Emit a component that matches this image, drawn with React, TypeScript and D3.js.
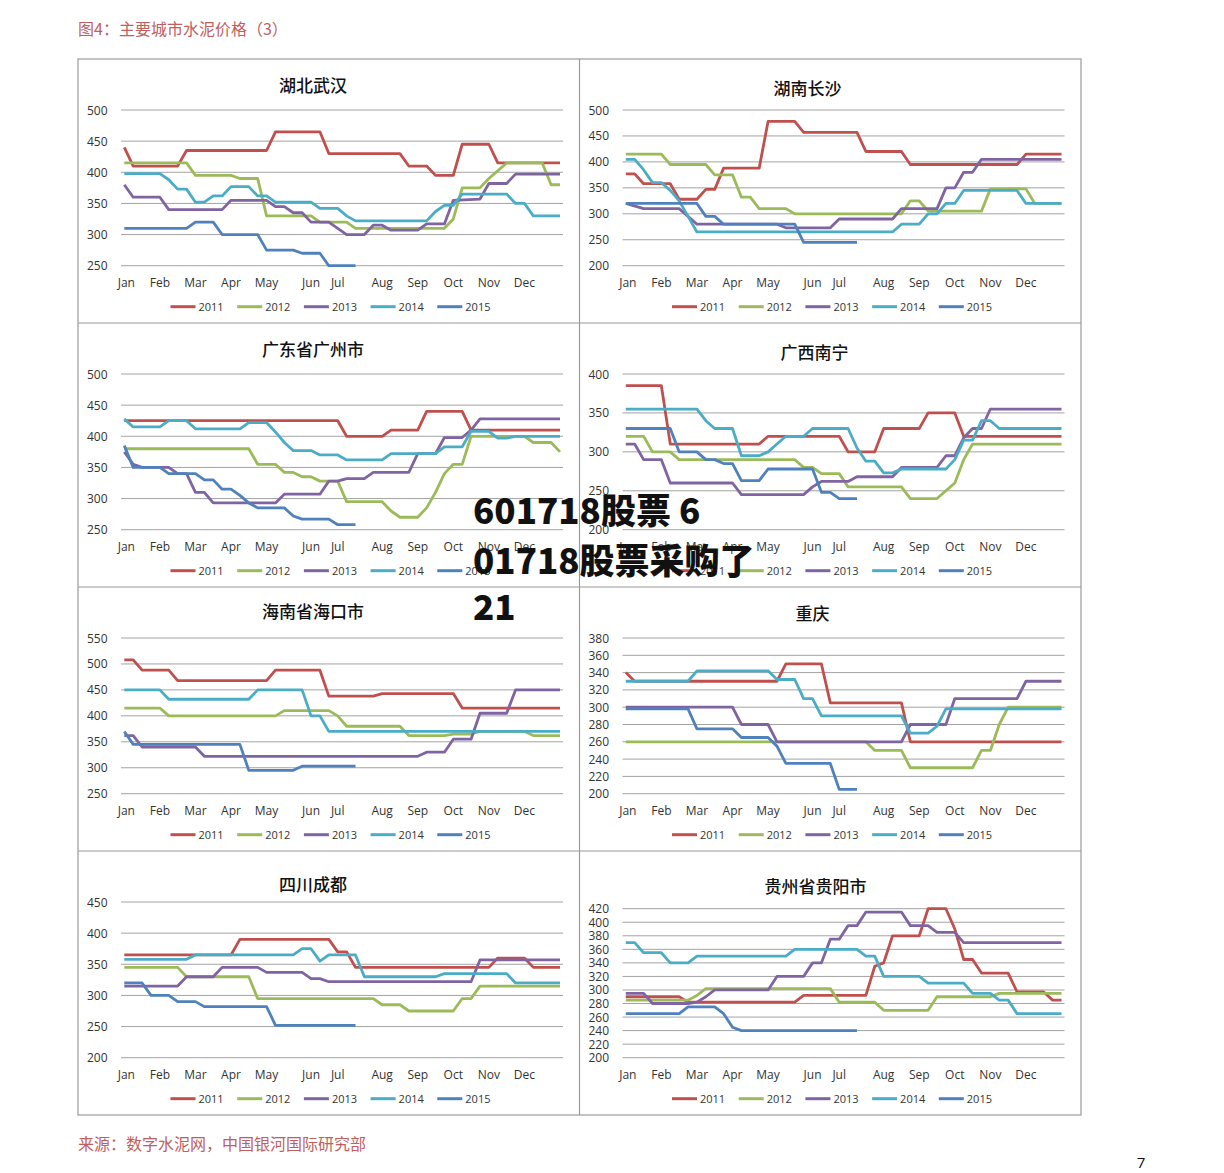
import React from 'react'
import * as d3 from 'd3'

type Pt = [number, number]

// x axis: weekly points 0..49, month labels sit on the first week of the month
const monthLabels = ['Jan', 'Feb', 'Mar', 'Apr', 'May', 'Jun', 'Jul', 'Aug', 'Sep', 'Oct', 'Nov', 'Dec']
const monthWeek = [0, 4, 8, 12, 16, 21, 24, 29, 33, 37, 41, 45]
const years = ['2011', '2012', '2013', '2014', '2015']

const cityNames = ['湖北武汉', '湖南长沙', '广东省广州市', '广西南宁', '海南省海口市', '重庆', '四川成都', '贵州省贵阳市']
const axisMin = [250, 200, 250, 200, 250, 200, 200, 200]
const axisMax = [500, 500, 500, 400, 550, 380, 450, 420]
const axisStep = [50, 50, 50, 50, 50, 20, 50, 20]

// each series: [week, price] vertices, one list per year 2011..2015
const wuhan: Pt[][] = [
  [[0, 440], [1, 410], [6, 410], [7, 435], [16, 435], [17, 465], [22, 465], [23, 430], [31, 430], [32, 410], [34, 410], [35, 395], [37, 395], [38, 445], [41, 445], [42, 415], [49, 415]],
  [[0, 415], [7, 415], [8, 395], [12, 395], [13, 390], [15, 390], [16, 330], [21, 330], [22, 320], [25, 320], [26, 310], [36, 310], [37, 325], [38, 375], [40, 375], [41, 390], [43, 415], [47, 415], [48, 380], [49, 380]],
  [[0, 380], [1, 360], [4, 360], [5, 340], [11, 340], [12, 355], [16, 355], [17, 345], [18, 345], [19, 335], [20, 335], [21, 320], [23, 320], [24, 310], [25, 300], [27, 300], [28, 315], [29, 315], [30, 307], [33, 307], [34, 317], [36, 317], [37, 355], [40, 357], [41, 382], [43, 382], [44, 397], [49, 397]],
  [[0, 398], [4, 398], [5, 388], [6, 373], [7, 373], [8, 352], [9, 352], [10, 362], [11, 362], [12, 377], [14, 377], [15, 362], [16, 362], [17, 352], [21, 352], [22, 342], [24, 342], [25, 330], [26, 322], [34, 322], [35, 337], [36, 347], [37, 347], [38, 365], [43, 365], [44, 350], [45, 350], [46, 330], [49, 330]],
  [[0, 310], [7, 310], [8, 320], [10, 320], [11, 300], [15, 300], [16, 275], [19, 275], [20, 270], [22, 270], [23, 250], [26, 250]],
]

const changsha: Pt[][] = [
  [[0, 377], [1, 377], [2, 358], [5, 358], [6, 328], [8, 328], [9, 347], [10, 347], [11, 388], [15, 388], [16, 478], [19, 478], [20, 457], [26, 457], [27, 420], [31, 420], [32, 395], [44, 395], [45, 415], [49, 415]],
  [[0, 415], [4, 415], [5, 395], [9, 395], [10, 375], [12, 375], [13, 332], [14, 332], [15, 310], [18, 310], [19, 300], [31, 300], [32, 325], [33, 325], [34, 305], [40, 305], [41, 348], [45, 348], [46, 320], [49, 320]],
  [[0, 320], [2, 310], [6, 310], [7, 295], [8, 280], [17, 280], [18, 273], [23, 273], [24, 290], [30, 290], [31, 310], [35, 310], [36, 350], [37, 350], [38, 380], [39, 380], [40, 405], [49, 405]],
  [[0, 405], [1, 405], [2, 385], [3, 360], [4, 360], [5, 345], [6, 325], [7, 295], [8, 265], [30, 265], [31, 280], [33, 280], [34, 300], [35, 300], [36, 320], [37, 320], [38, 345], [44, 345], [45, 320], [49, 320]],
  [[0, 320], [8, 320], [9, 295], [10, 295], [11, 280], [19, 280], [20, 245], [26, 245]],
]

const guangzhou: Pt[][] = [
  [[0, 425], [24, 425], [25, 400], [29, 400], [30, 410], [33, 410], [34, 440], [38, 440], [39, 410], [49, 410]],
  [[0, 380], [14, 380], [15, 355], [17, 355], [18, 342], [19, 342], [20, 335], [21, 335], [22, 328], [24, 328], [25, 295], [29, 295], [30, 280], [31, 270], [33, 270], [34, 285], [35, 310], [36, 340], [37, 355], [38, 355], [39, 400], [45, 400], [46, 390], [48, 390], [49, 375]],
  [[0, 375], [1, 355], [2, 350], [5, 350], [6, 340], [7, 340], [8, 310], [9, 310], [10, 293], [17, 293], [18, 307], [22, 307], [23, 328], [24, 328], [25, 332], [27, 332], [28, 342], [32, 342], [33, 372], [35, 372], [36, 398], [38, 398], [39, 410], [40, 428], [49, 428]],
  [[0, 428], [1, 415], [4, 415], [5, 425], [7, 425], [8, 412], [13, 412], [14, 422], [16, 422], [17, 407], [18, 390], [19, 377], [21, 377], [22, 370], [24, 370], [25, 362], [29, 362], [30, 372], [35, 372], [36, 383], [38, 383], [39, 408], [41, 408], [42, 397], [43, 397], [44, 400], [49, 400]],
  [[0, 385], [1, 350], [4, 350], [5, 340], [8, 340], [9, 330], [10, 330], [11, 315], [12, 315], [13, 305], [14, 293], [15, 285], [18, 285], [19, 272], [20, 267], [23, 267], [24, 258], [26, 258]],
]

const nanning: Pt[][] = [
  [[0, 385], [4, 385], [5, 310], [15, 310], [16, 320], [24, 320], [25, 300], [28, 300], [29, 330], [33, 330], [34, 350], [37, 350], [38, 320], [49, 320]],
  [[0, 320], [2, 320], [3, 300], [5, 300], [6, 290], [19, 290], [20, 280], [21, 280], [22, 272], [24, 272], [25, 255], [31, 255], [32, 240], [35, 240], [36, 250], [37, 260], [38, 290], [39, 310], [49, 310]],
  [[0, 310], [1, 310], [2, 290], [4, 290], [5, 260], [12, 260], [13, 245], [20, 245], [21, 255], [22, 262], [25, 262], [26, 268], [30, 268], [31, 280], [35, 280], [36, 295], [37, 295], [38, 318], [39, 330], [40, 330], [41, 355], [49, 355]],
  [[0, 355], [8, 355], [9, 340], [10, 330], [12, 330], [13, 295], [15, 295], [16, 300], [17, 310], [18, 320], [20, 320], [21, 330], [25, 330], [26, 305], [27, 288], [28, 288], [29, 273], [30, 273], [31, 278], [36, 278], [37, 290], [38, 315], [39, 315], [40, 340], [41, 340], [42, 330], [49, 330]],
  [[0, 330], [5, 330], [6, 300], [8, 300], [9, 290], [10, 290], [11, 285], [12, 285], [13, 263], [15, 263], [16, 278], [21, 278], [22, 248], [23, 248], [24, 240], [26, 240]],
]

const haikou: Pt[][] = [
  [[0, 508], [1, 508], [2, 488], [5, 488], [6, 468], [16, 468], [17, 488], [22, 488], [23, 438], [28, 438], [29, 443], [37, 443], [38, 415], [49, 415]],
  [[0, 415], [4, 415], [5, 400], [17, 400], [18, 410], [23, 410], [24, 400], [25, 380], [31, 380], [32, 362], [36, 362], [37, 365], [39, 365], [40, 370], [45, 370], [46, 362], [49, 362]],
  [[0, 362], [1, 362], [2, 340], [8, 340], [9, 322], [33, 322], [34, 330], [36, 330], [37, 355], [39, 355], [40, 405], [43, 405], [44, 450], [49, 450]],
  [[0, 450], [4, 450], [5, 432], [14, 432], [15, 450], [20, 450], [21, 400], [22, 400], [23, 370], [49, 370]],
  [[0, 370], [1, 345], [13, 345], [14, 295], [19, 295], [20, 303], [26, 303]],
]

const chongqing: Pt[][] = [
  [[0, 340], [1, 330], [17, 330], [18, 350], [22, 350], [23, 305], [31, 305], [32, 260], [49, 260]],
  [[0, 260], [27, 260], [28, 250], [31, 250], [32, 230], [39, 230], [40, 250], [41, 250], [42, 280], [43, 300], [49, 300]],
  [[0, 300], [12, 300], [13, 280], [16, 280], [17, 260], [31, 260], [32, 280], [36, 280], [37, 310], [44, 310], [45, 330], [49, 330]],
  [[0, 330], [7, 330], [8, 342], [16, 342], [17, 332], [19, 332], [20, 310], [21, 310], [22, 290], [31, 290], [32, 270], [34, 270], [35, 278], [36, 298], [49, 298]],
  [[0, 298], [7, 298], [8, 275], [12, 275], [13, 265], [16, 265], [17, 255], [18, 235], [23, 235], [24, 205], [26, 205]],
]

const chengdu: Pt[][] = [
  [[0, 365], [12, 365], [13, 390], [23, 390], [24, 370], [25, 370], [26, 345], [41, 345], [42, 360], [45, 360], [46, 345], [49, 345]],
  [[0, 345], [6, 345], [7, 330], [14, 330], [15, 295], [28, 295], [29, 285], [31, 285], [32, 275], [37, 275], [38, 295], [39, 295], [40, 315], [49, 315]],
  [[0, 315], [6, 315], [7, 330], [10, 330], [11, 345], [15, 345], [16, 337], [20, 337], [21, 327], [22, 327], [23, 322], [39, 322], [40, 357], [49, 357]],
  [[0, 358], [7, 358], [8, 365], [19, 365], [20, 375], [21, 375], [22, 355], [23, 365], [26, 365], [27, 330], [35, 330], [36, 335], [43, 335], [44, 320], [49, 320]],
  [[0, 320], [2, 320], [3, 300], [5, 300], [6, 290], [8, 290], [9, 282], [16, 282], [17, 252], [26, 252]],
]

const guiyang: Pt[][] = [
  [[0, 290], [6, 290], [7, 282], [19, 282], [20, 292], [27, 292], [28, 335], [29, 340], [30, 380], [33, 380], [34, 420], [36, 420], [37, 390], [38, 345], [39, 345], [40, 325], [43, 325], [44, 297], [47, 297], [48, 285], [49, 285]],
  [[0, 285], [7, 285], [8, 292], [9, 302], [23, 302], [24, 282], [28, 282], [29, 270], [34, 270], [35, 290], [41, 290], [42, 295], [49, 295]],
  [[0, 295], [2, 295], [3, 280], [7, 280], [8, 282], [9, 290], [10, 300], [16, 300], [17, 320], [20, 320], [21, 340], [22, 340], [23, 375], [24, 375], [25, 395], [26, 395], [27, 415], [31, 415], [32, 395], [34, 395], [35, 385], [37, 385], [38, 370], [49, 370]],
  [[0, 370], [1, 370], [2, 355], [4, 355], [5, 340], [7, 340], [8, 350], [18, 350], [19, 360], [26, 360], [27, 350], [28, 350], [29, 320], [33, 320], [34, 310], [38, 310], [39, 295], [41, 295], [42, 285], [43, 285], [44, 265], [49, 265]],
  [[0, 265], [6, 265], [7, 275], [10, 275], [11, 265], [12, 245], [13, 240], [26, 240]],
]

const citySeries = [wuhan, changsha, guangzhou, nanning, haikou, chongqing, chengdu, guiyang]

// styling / layout
const yearColors = ['#c0504d', '#9bbb59', '#8064a2', '#4bacc6', '#4f81bd']
const titleOffset = [[235, 25], [228, 28], [235, 25], [235, 28], [235, 23], [233, 25], [235, 32], [236, 34]]
const latin = '"Open Sans", "Liberation Sans", sans-serif'
const cjk = '"Noto Sans CJK SC", sans-serif'
const boxX = 78
const boxY = 59
const panelW = 501.5
const panelH = 264

const Panel = ({ index }: { index: number }) => {
  const col = index % 2
  const row = Math.floor(index / 2)
  const x0 = boxX + col * panelW
  const y0 = boxY + row * panelH
  const ticks = d3.range(axisMin[index], axisMax[index] + axisStep[index] / 2, axisStep[index])
  const top = index === 7 ? 57.7 : 51
  const x = d3.scaleLinear().domain([0, 49]).range([x0 + 46.3, x0 + 482])
  const y = d3
    .scaleLinear()
    .domain([axisMin[index], axisMax[index]])
    .range([y0 + 206.7, y0 + top])
  const line = d3
    .line<Pt>()
    .x(d => x(d[0]))
    .y(d => y(d[1]))

  return (
    <g>
      <text
        x={x0 + titleOffset[index][0]}
        y={y0 + titleOffset[index][1]}
        textAnchor="middle"
        dominantBaseline="central"
        fontFamily={cjk}
        fontSize={17}
        fontWeight={500}
        fill="#111"
      >
        {cityNames[index]}
      </text>
      {ticks.map(t => (
        <g key={t}>
          <line x1={x0 + 43} x2={x0 + 485} y1={y(t)} y2={y(t)} stroke="#a3a3a3" strokeWidth={1} />
          <text
            x={x0 + 29.5}
            y={y(t)}
            textAnchor="end"
            dominantBaseline="central"
            fontFamily={latin}
            fontSize={12}
            fill="#333"
          >
            {t}
          </text>
        </g>
      ))}
      {monthLabels.map((m, i) => (
        <text
          key={m}
          x={x(monthWeek[i]) + (i === 0 ? 2 : 0)}
          y={y0 + 223.7}
          textAnchor="middle"
          dominantBaseline="central"
          fontFamily={latin}
          fontSize={12}
          fill="#333"
        >
          {m}
        </text>
      ))}
      {citySeries[index].map((s, i) => (
        <path
          key={years[i]}
          d={line(s) || ''}
          fill="none"
          stroke={yearColors[i]}
          strokeWidth={2.8}
          strokeLinejoin="round"
        />
      ))}
      {years.map((yr, i) => (
        <g key={yr} transform={`translate(${x0 + 92.5 + i * 66.7},${y0 + 247.7})`}>
          <line x1={0} x2={25} y1={0} y2={0} stroke={yearColors[i]} strokeWidth={3} />
          <text x={28} y={0} dominantBaseline="central" fontFamily={latin} fontSize={11} fill="#333">
            {yr}
          </text>
        </g>
      ))}
    </g>
  )
}

const App = () => {
  return (
    <svg
      width={1224}
      height={1173}
      style={{ position: 'absolute', left: 0, top: 0, background: '#fff' }}
    >
      <rect width={1224} height={1173} fill="#fff" />
      <text x={78} y={28} dominantBaseline="central" fontFamily={cjk} fontSize={16} fill="#c0605e">
        图4：主要城市水泥价格（3）
      </text>
      <rect x={boxX} y={boxY} width={panelW * 2} height={panelH * 4} fill="none" stroke="#9a9a9a" strokeWidth={1.2} />
      <line x1={boxX + panelW} x2={boxX + panelW} y1={boxY} y2={boxY + panelH * 4} stroke="#9a9a9a" strokeWidth={1.2} />
      {[1, 2, 3].map(r => (
        <line key={r} x1={boxX} x2={boxX + panelW * 2} y1={boxY + r * panelH} y2={boxY + r * panelH} stroke="#9a9a9a" strokeWidth={1.2} />
      ))}
      {cityNames.map((c, i) => (
        <Panel key={c} index={i} />
      ))}
      <text x={78} y={1143} dominantBaseline="central" fontFamily={cjk} fontSize={16} fill="#c0605e">
        来源：数字水泥网，中国银河国际研究部
      </text>
      <text x={1141} y={1162} textAnchor="middle" dominantBaseline="central" fontFamily={latin} fontSize={15} fill="#111">
        7
      </text>
      <g fontFamily={cjk} fontSize={35} fontWeight={900} fill="#111">
        <text x={473} y={523.5}>601718股票 6</text>
        <text x={473} y={573.5}>01718股票采购了</text>
        <text x={473} y={620}>21</text>
      </g>
    </svg>
  )
}

export default App
